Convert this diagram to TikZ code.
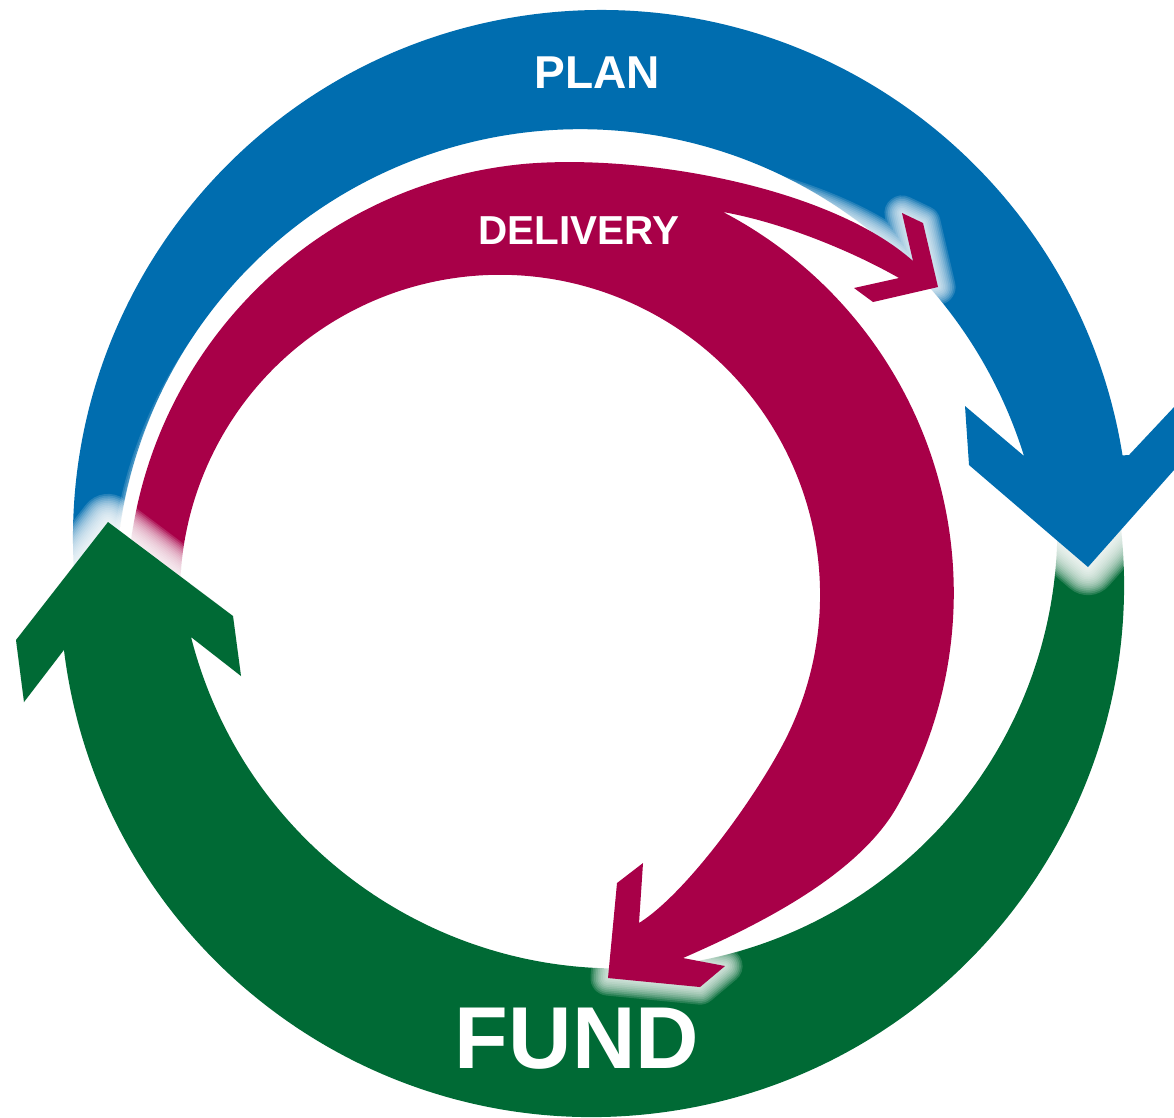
\documentclass[tikz,border=0pt]{standalone}
\usepackage{fontspec}
\setmainfont{Liberation Sans}
\usetikzlibrary{calc}

\definecolor{planblue}{RGB}{0,109,175}
\definecolor{deliveryred}{RGB}{168,0,72}
\definecolor{fundgreen}{RGB}{0,106,53}

% arrow outlines (1 unit = 1px, y runs down)
\newcommand{\planpath}{($(601,538)+(174:528)$) arc[start angle=174, end angle=351, radius=528]
  -- (1129,455) -- (1190,390) -- (1205,435) -- (1088,567) -- (969,465) -- (965,406) -- (1024,456)
  arc[start angle=342.7, end angle=180.5, radius=465] -- cycle}
\newcommand{\deliverypath}{($(565,600)+(180:438)$) arc[start angle=180, end angle=265, radius=438]
  .. controls (647,154) and (831,188) .. (913,261)
  -- (902,213) -- (923,223) -- (938,287) -- (873,302) -- (854,288) -- (899,278)
  .. controls (850,250) and (780,222) .. (723,212)
  arc[start angle=-62.4, end angle=30, radius=430]
  .. controls (856,877) and (756,926) .. (683,958)
  -- (725,966) -- (700,987) -- (608,978) -- (617,883) -- (643,863) -- (639,923)
  .. controls (690,891) and (765,784) .. (790,730)
  arc[start angle=25, end angle=-180, radius=320] -- cycle}
\newcommand{\fundpath}{($(592,585)+(-7:532)$) arc[start angle=-7, end angle=173, radius=532]
  -- (24,702) -- (16,640) -- (108,522) -- (233,616) -- (241,676) -- (191,637)
  arc[start angle=165.7, end angle=0, radius=440] -- cycle}

% soft white halo round an arrow, #1 = number of rings
\newcommand{\glowpath}[2]{\foreach \r in {1,...,#1}{\draw[glow, line width=\r pt] #2;}}

\begin{document}
\begin{tikzpicture}[x=0.01cm, y=-0.01cm,
    glow/.style={draw=white, opacity=0.15, line join=round},
    cyclelabel/.style={text=white, inner sep=0pt}]
  \useasboundingbox (0,0) rectangle (1174,1117);
  \clip (0,0) rectangle (1174,1117);

  % green ring first, its tail goes under the blue head
  \fill[fundgreen] \fundpath;

  % blue arrow
  \glowpath{16}{\planpath}
  \fill[planblue] \planpath;

  % red arrow with its two heads
  \glowpath{10}{\deliverypath}
  \fill[deliveryred] \deliverypath;

  % green head again, over the blue and red tails
  \begin{scope}
    \clip (0,470) rectangle (300,740);
    \glowpath{16}{\fundpath}
    \fill[fundgreen] \fundpath;
  \end{scope}

  \node[cyclelabel, font=\fontsize{13.1}{15}\selectfont\bfseries] (plan) at (597,73) {PLAN};
  \node[cyclelabel, font=\fontsize{11.5}{13}\selectfont\bfseries] (delivery) at (579,231) {DELIVERY};
  \node[cyclelabel, font=\fontsize{25}{28}\selectfont\bfseries] (fund) at (577,1039) {FUND};
\end{tikzpicture}
\end{document}
